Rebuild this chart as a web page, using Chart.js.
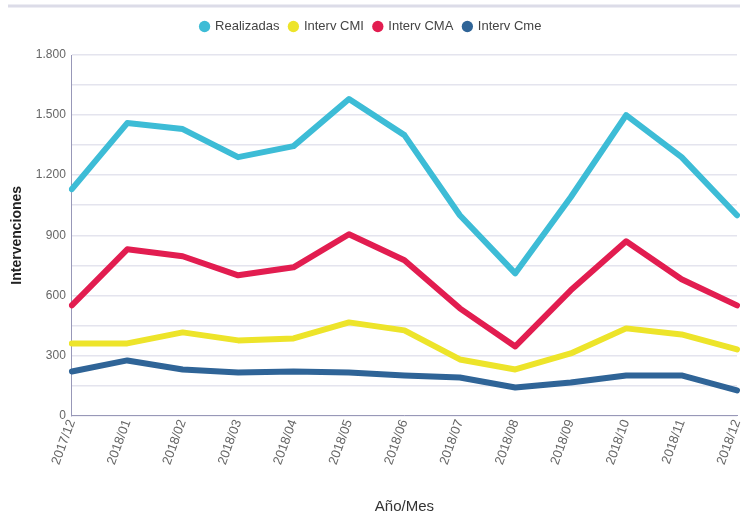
<!DOCTYPE html>
<html>
<head>
<meta charset="utf-8">
<script src="https://cdn.jsdelivr.net/npm/chart.js@4"></script>
<style>
  body { margin: 0; background: #fff; }
  #wrap { width: 748px; height: 520px; position: relative; }
</style>
</head>
<body>
<div id="wrap"><canvas id="intervChart"></canvas></div>
<script>
const meses = ['2017/12', '2018/01', '2018/02', '2018/03', '2018/04', '2018/05', '2018/06',
               '2018/07', '2018/08', '2018/09', '2018/10', '2018/11', '2018/12'];
const realizadas = [1130, 1460, 1430, 1290, 1345, 1580, 1400, 1000, 710, 1090, 1500, 1290, 1000];
const intervCMA = [550, 830, 795, 700, 740, 905, 775, 535, 345, 625, 870, 680, 550];
const intervCMI = [360, 360, 415, 375, 385, 465, 425, 280, 230, 310, 435, 405, 330];
const intervCme = [220, 275, 230, 215, 220, 215, 200, 190, 140, 165, 200, 200, 125];

const fuente = "'Liberation Sans Narrow', 'Liberation Sans', Arial, sans-serif";

// linea gris de arriba (resto de la cabecera)
const lineaSuperior = {
    id: 'lineaSuperior',
    beforeDraw(chart) {
        const c = chart.ctx;
        c.save();
        c.strokeStyle = '#dcdce8';
        c.lineWidth = 3;
        c.beginPath();
        c.moveTo(8, 6);
        c.lineTo(740, 6);
        c.stroke();
        c.restore();
    }
};

// mas espacio debajo de la leyenda
const espacioLeyenda = {
    id: 'espacioLeyenda',
    beforeInit(chart) {
        const fitOrig = chart.legend.fit;
        chart.legend.fit = function () {
            fitOrig.bind(chart.legend)();
            this.height += 12;
        };
    }
};

function serie(label, data, color) {
    return {
        label: label,
        data: data,
        borderColor: color,
        backgroundColor: color,
        borderWidth: 6,
        borderCapStyle: 'round',
        borderJoinStyle: 'round',
        pointRadius: 0,
        pointStyle: 'circle',
        tension: 0,
        fill: false
    };
}

const ctx = document.getElementById('intervChart').getContext('2d');
new Chart(ctx, {
    type: 'line',
    data: {
        labels: meses,
        datasets: [
            serie('Realizadas', realizadas, '#3dbcd6'),
            serie('Interv CMI', intervCMI, '#ede42a'),
            serie('Interv CMA', intervCMA, '#e21d50'),
            serie('Interv Cme', intervCme, '#2f6497')
        ]
    },
    options: {
        responsive: true,
        maintainAspectRatio: false,
        animation: false,
        layout: { padding: { top: 10, right: 11, left: 5, bottom: 0 } },
        scales: {
            x: {
                offset: false,
                afterFit(scale) { scale.paddingRight = 0; },
                grid: { display: false, drawTicks: false },
                border: { color: '#9898b8', width: 1 },
                ticks: {
                    color: '#666',
                    font: { family: fuente, size: 13 },
                    maxRotation: 70,
                    minRotation: 70,
                    padding: 2
                },
                title: {
                    display: true,
                    text: 'Año/Mes',
                    color: '#333',
                    font: { family: fuente, size: 15 },
                    padding: { top: 29 }
                }
            },
            y: {
                min: 0,
                max: 1800,
                grid: { color: '#e4e4ee', lineWidth: 1.5, drawTicks: false },
                border: { color: '#9898b8', width: 1 },
                ticks: {
                    stepSize: 150,
                    color: '#666',
                    padding: 6,
                    font: { family: fuente, size: 12 },
                    callback: v => v % 300 === 0 ? v.toString().replace(/\B(?=(\d{3})+(?!\d))/g, '.') : ''
                },
                title: {
                    display: true,
                    text: 'Intervenciones',
                    color: '#222',
                    font: { family: fuente, size: 14, weight: 'bold' },
                    padding: { bottom: 4 }
                }
            }
        },
        plugins: {
            legend: {
                position: 'top',
                labels: {
                    usePointStyle: true,
                    boxWidth: 8,
                    boxHeight: 8,
                    color: '#444',
                    padding: 10,
                    font: { family: fuente, size: 13 },
                    generateLabels(chart) {
                        return Chart.defaults.plugins.legend.labels.generateLabels(chart)
                            .map(item => Object.assign(item, { lineWidth: 0 }));
                    }
                }
            },
            tooltip: { enabled: false }
        }
    },
    plugins: [lineaSuperior, espacioLeyenda]
});
</script>
</body>
</html>
